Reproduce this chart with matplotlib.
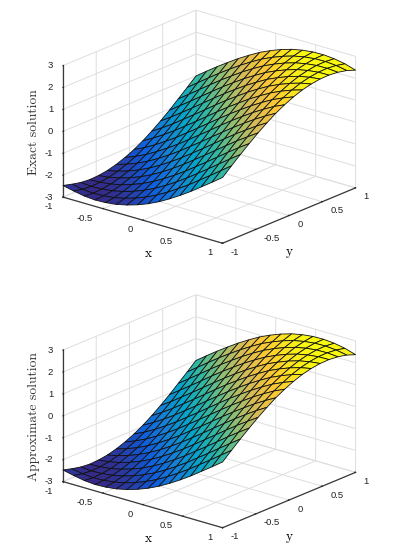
import numpy as np
import matplotlib
matplotlib.use("Agg")
import matplotlib.pyplot as plt
from matplotlib.colors import LinearSegmentedColormap

# mesh nodes
grid_x = [-1, -0.867, -0.733, -0.6, -0.467, -0.333, -0.2, -0.067, 0.067, 0.2, 0.333, 0.467, 0.6, 0.733, 0.867, 1]
grid_y = [-1, -0.867, -0.733, -0.6, -0.467, -0.333, -0.2, -0.067, 0.067, 0.2, 0.333, 0.467, 0.6, 0.733, 0.867, 1]

# height, one value per diagonal of the mesh (x+y from -2 to 2)
exact_diag = [-2.47, -2.58, -2.67, -2.71, -2.69, -2.63, -2.52, -2.37, -2.18, -1.95, -1.68, -1.38, -1.06, -0.71, -0.36,
              0.0, 0.36, 0.71, 1.04, 1.36, 1.65, 1.92, 2.14, 2.33, 2.48, 2.58, 2.64, 2.65, 2.61, 2.52, 2.37]
approx_diag = [-2.47, -2.58, -2.67, -2.71, -2.69, -2.63, -2.52, -2.37, -2.18, -1.95, -1.68, -1.38, -1.06, -0.71, -0.36,
               0.0, 0.36, 0.71, 1.04, 1.36, 1.65, 1.92, 2.14, 2.33, 2.48, 2.58, 2.64, 2.65, 2.61, 2.52, 2.37]

xy_ticks = [-1, -0.5, 0, 0.5, 1]
xy_labels = ["-1", "-0.5", "0", "0.5", "1"]
z_ticks = [-3, -2, -1, 0, 1, 2, 3]
z_labels = ["-3", "-2", "-1", "0", "1", "2", "3"]

parula = LinearSegmentedColormap.from_list("parula", ["#352A87", "#0F5CDD", "#1481D6", "#06A4CA", "#2EB7A4",
                                                      "#87BF77", "#D1BB59", "#FEC832", "#F9FB0E"])
GRID = "#dedede"
DARK = "#3a3a3a"
W, H = 394.0, 555.0

fig = plt.figure(figsize=(3.94, 5.55), dpi=100)


def panel(bottom_px, diag, zlabel, shift):
    ax = fig.add_axes([47 / W, bottom_px / H, 316 / W, 316 / H], projection="3d", proj_type="ortho")
    ax.patch.set_alpha(0)
    ax.view_init(elev=20.3, azim=-50.2)
    ax.set_box_aspect((1, 1, 0.675))

    X, Y = np.meshgrid(grid_x, grid_y)
    ix, iy = np.meshgrid(np.arange(len(grid_x)), np.arange(len(grid_y)))
    Z = np.array(diag)[ix + iy]
    ax.plot_surface(X, Y, Z, rstride=1, cstride=1, cmap=parula, vmin=min(diag), vmax=max(diag),
                    edgecolor="#111111", linewidth=0.6, shade=False, antialiased=True)

    ax.set_xlim(-1, 1)
    ax.set_ylim(-1, 1)
    ax.set_zlim(-3, 3)
    ax.set_xticks(xy_ticks, xy_labels, fontsize=6.8, family="Liberation Sans", ha="right", va="bottom")
    ax.set_yticks(xy_ticks, xy_labels, fontsize=6.8, family="Liberation Sans", ha="left", va="center")
    ax.set_zticks(z_ticks, z_labels, fontsize=6.8, family="Liberation Sans", ha="right", va="center")
    ax.zaxis.set_ticks_position("lower")

    for axis in (ax.xaxis, ax.yaxis, ax.zaxis):
        axis.set_pane_color((1, 1, 1, 0))
        axis.pane.set_edgecolor(GRID)
        axis.line.set_color(DARK)
        axis.line.set_linewidth(0.9)
        axis._axinfo["grid"].update(color=GRID, linewidth=0.7)
        axis._axinfo["tick"].update(inward_factor=0.0, outward_factor=0.05)
    ax.tick_params(axis="x", pad=1, colors="#222222", width=0.6)
    ax.tick_params(axis="y", pad=-2, colors="#222222", width=0.6)
    ax.tick_params(axis="z", pad=-4, colors="#222222", width=0.6)

    # axis titles sit apart from the 3d axes in the original
    fig.text(148 / W, 1 - (254 + shift) / H, "x", family="cmr10", fontsize=9.7, ha="center", va="center")
    fig.text(289 / W, 1 - (252 + shift) / H, "y", family="cmr10", fontsize=9.7, ha="center", va="center")
    fig.text(34 / W, 1 - (131.7 + shift) / H, zlabel, family="cmr10", fontsize=9.7, rotation=90,
             ha="center", va="center", color="#333333")
    return ax


panel(266, exact_diag, "Exact solution", 0)
panel(266 - 284.5, approx_diag, "Approximate solution", 284.5)

fig.savefig("out.png", dpi=100)
